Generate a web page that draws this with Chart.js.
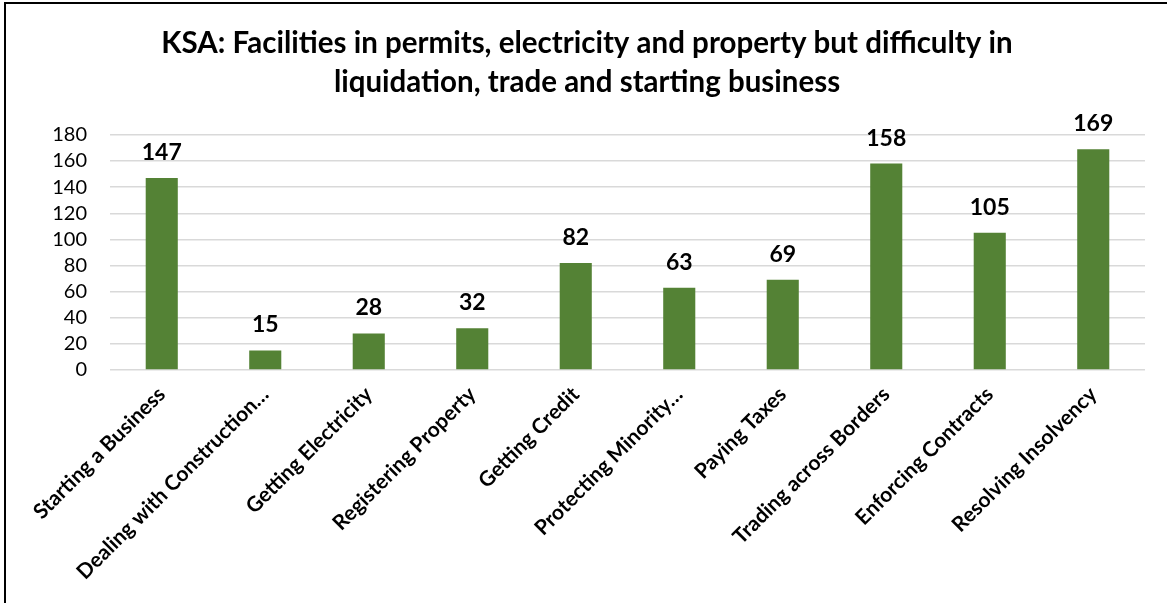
<!DOCTYPE html>
<html>
<head>
<meta charset="utf-8">
<script src="https://cdn.jsdelivr.net/npm/chart.js@4/dist/chart.umd.min.js"></script>
<style>
  html, body { margin: 0; padding: 0; background: #fff; }
  #wrap { position: relative; width: 1167px; height: 603px; overflow: hidden; }
  #frame { position: absolute; left: 4px; top: 2px; right: -10px; bottom: -10px;
           border-left: 2px solid #000; border-top: 2px solid #000; pointer-events: none; }
  canvas { position: absolute; left: 0; top: 0; }
</style>
</head>
<body>
<div id="wrap">
  <canvas id="chart" width="1167" height="603"></canvas>
  <div id="frame"></div>
</div>
<script>
// Doing Business rankings for KSA by topic
const categories = [
  'Starting a Business',
  'Dealing with Construction\u2026',
  'Getting Electricity',
  'Registering Property',
  'Getting Credit',
  'Protecting Minority\u2026',
  'Paying Taxes',
  'Trading across Borders',
  'Enforcing Contracts',
  'Resolving Insolvency'
];
const rankValues = [147, 15, 28, 32, 82, 63, 69, 158, 105, 169];
const yTicks = [0, 20, 40, 60, 80, 100, 120, 140, 160, 180];
const titleLines = [
  'KSA: Facilities in permits, electricity and property but difficulty in',
  'liquidation, trade and starting business'
];

const FONT = 'Lato, "Open Sans", "DejaVu Sans", sans-serif';

// Writes each bar's value above it
const valueLabels = {
  id: 'valueLabels',
  afterDatasetsDraw(chart) {
    const ctx = chart.ctx;
    const meta = chart.getDatasetMeta(0);
    ctx.save();
    ctx.font = 'bold 23px ' + FONT;
    ctx.fillStyle = '#000';
    ctx.textAlign = 'center';
    ctx.textBaseline = 'alphabetic';
    meta.data.forEach((bar, i) => {
      ctx.fillText(String(chart.data.datasets[0].data[i]), bar.x, bar.y - 18);
    });
    ctx.restore();
  }
};

new Chart(document.getElementById('chart'), {
  type: 'bar',
  data: {
    labels: categories,
    datasets: [{
      data: rankValues,
      backgroundColor: '#548235',
      borderWidth: 0,
      categoryPercentage: 1,
      barPercentage: 0.31
    }]
  },
  options: {
    responsive: false,
    animation: false,
    devicePixelRatio: 1,
    layout: { padding: { top: 0, right: 22, left: 29, bottom: 0 } },
    plugins: {
      legend: { display: false },
      tooltip: { enabled: false },
      title: {
        display: true,
        text: titleLines,
        color: '#000',
        font: { family: FONT, size: 29.5, weight: 'bold', lineHeight: 1.32 },
        padding: { top: 24, bottom: 33 }
      }
    },
    scales: {
      x: {
        grid: { display: false },
        border: { display: false },
        ticks: {
          color: '#000',
          font: { family: FONT, size: 21, weight: 'bold' },
          maxRotation: 45,
          minRotation: 45,
          autoSkip: false,
          padding: 4
        },
        afterFit(scale) { scale.height = 233; }
      },
      y: {
        min: 0,
        max: 180,
        afterBuildTicks(scale) { scale.ticks = yTicks.map(v => ({ value: v })); },
        grid: { color: '#d9d9d9', lineWidth: 1.5, drawTicks: false },
        border: { display: false },
        ticks: {
          color: '#000',
          font: { family: FONT, size: 20 },
          padding: 23,
          autoSkip: false
        },
        afterFit(scale) { scale.width = 81; }
      }
    }
  },
  plugins: [valueLabels]
});
</script>
</body>
</html>
